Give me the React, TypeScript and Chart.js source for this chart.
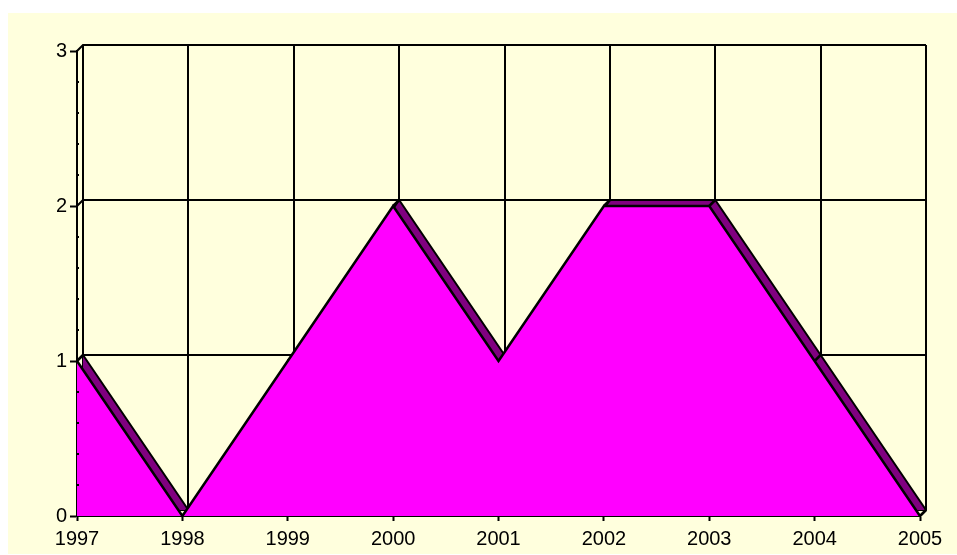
import React, { useEffect, useRef } from "react";
import { Chart, registerables } from "chart.js";

const years = ["1997", "1998", "1999", "2000", "2001", "2002", "2003", "2004", "2005"];
const values = [1, 0, 1, 2, 1, 2, 2, 1, 0];
const yTicks = [0, 1, 2, 3];

const DX = 6;
const DY = 6;
const BG = "#FFFFDD";
const FRONT = "#FF00FF";
const SIDE = "#800080";

const depthPlugin = {
  id: "depth3d",
  beforeDatasetsDraw(chart: any) {
    const { ctx, chartArea: a, scales } = chart;
    const x = scales.x;
    const y = scales.y;
    ctx.save();
    ctx.strokeStyle = "#000";
    ctx.lineWidth = 2;
    yTicks.forEach((v) => {
      const py = Math.round(y.getPixelForValue(v));
      ctx.beginPath();
      ctx.moveTo(a.left, py);
      ctx.lineTo(a.left + DX, py - DY);
      ctx.lineTo(a.right + DX, py - DY);
      ctx.stroke();
    });
    years.forEach((_, i) => {
      const px = Math.round(x.getPixelForValue(i));
      ctx.beginPath();
      ctx.moveTo(px, a.bottom);
      ctx.lineTo(px + DX, a.bottom - DY);
      ctx.lineTo(px + DX, Math.round(y.getPixelForValue(3)) - DY);
      ctx.stroke();
    });
    ctx.restore();
  },
  beforeDatasetDraw(chart: any, args: any) {
    if (chart.data.datasets[args.index].back) {
      chart.ctx.save();
      chart.ctx.translate(DX, -DY);
    }
  },
  afterDatasetDraw(chart: any, args: any) {
    if (chart.data.datasets[args.index].back) {
      const ctx = chart.ctx;
      ctx.restore();
      const front = chart.getDatasetMeta(0).data;
      ctx.save();
      ctx.strokeStyle = "#000";
      ctx.lineWidth = 2.5;
      front.forEach((p: any) => {
        ctx.beginPath();
        ctx.moveTo(p.x, p.y);
        ctx.lineTo(p.x + DX, p.y - DY);
        ctx.stroke();
      });
      ctx.restore();
    }
  },
  afterDraw(chart: any) {
    const { ctx, chartArea: a, scales } = chart;
    const y = scales.y;
    ctx.save();
    ctx.fillStyle = "#000";
    for (let k = 0; k < 15; k++) {
      if (k % 5 === 0) continue;
      const py = Math.round(y.getPixelForValue(k / 5));
      ctx.fillRect(a.left, py - 1, 2, 2);
    }
    ctx.restore();
  },
};

Chart.register(depthPlugin as any);
Chart.register(...registerables);

export default function App() {
  const ref = useRef<HTMLCanvasElement | null>(null);
  useEffect(() => {
    if (!ref.current) return;
    const font = { family: "'Liberation Sans', Arial, sans-serif", size: 20 };
    const chart = new Chart(ref.current, {
      type: "line",
      data: {
        labels: years,
        datasets: [
          {
            label: "front",
            data: values,
            backgroundColor: FRONT,
            borderColor: "#000",
            borderWidth: 2.5,
            fill: "origin",
            pointRadius: 0,
            tension: 0,
            clip: false,
          } as any,
          {
            label: "back",
            back: true,
            data: values,
            backgroundColor: SIDE,
            borderColor: "#000",
            borderWidth: 2,
            fill: "origin",
            pointRadius: 0,
            tension: 0,
            clip: false,
          } as any,
        ],
      },
      options: {
        animation: false,
        responsive: true,
        maintainAspectRatio: false,
        layout: { padding: { left: 0, top: 38, right: 37, bottom: 0 } },
        plugins: {
          legend: { display: false },
          tooltip: { enabled: false },
          filler: { drawTime: "beforeDatasetDraw" } as any,
        },
        scales: {
          x: {
            type: "category",
            offset: false,
            z: 1,
            grid: {
              display: true,
              drawOnChartArea: false,
              drawTicks: true,
              tickLength: 5,
              tickColor: "#000",
              tickWidth: 2,
            },
            border: { display: true, color: "#000", width: 2 },
            ticks: { color: "#000", font, padding: 6, maxRotation: 0, autoSkip: false },
            afterFit: (s: any) => {
              s.height = 38;
            },
          },
          y: {
            type: "linear",
            min: 0,
            max: 3,
            z: 1,
            grid: {
              display: true,
              drawOnChartArea: false,
              drawTicks: true,
              tickLength: 7,
              tickColor: "#000",
              tickWidth: 2,
            },
            border: { display: true, color: "#000", width: 2 },
            ticks: { color: "#000", font, padding: 3, stepSize: 1 },
            afterFit: (s: any) => {
              s.width = 69;
            },
          },
        },
      },
    });
    return () => chart.destroy();
  }, []);
  return (
    <div
      style={{
        position: "absolute",
        left: 8,
        top: 13,
        width: 949,
        height: 541,
        background: BG,
      }}
    >
      <canvas ref={ref} />
    </div>
  );
}
